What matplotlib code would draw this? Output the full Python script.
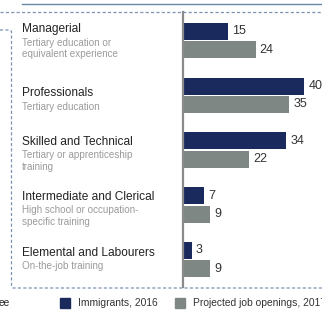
import matplotlib
matplotlib.use("Agg")
import matplotlib.pyplot as plt
from matplotlib.lines import Line2D
from matplotlib.patches import Rectangle
import numpy as np

categories = ["Managerial", "Professionals", "Skilled and Technical",
              "Intermediate and Clerical", "Elemental and Labourers"]
subtitles = [["Tertiary education or", "equivalent experience"],
             ["Tertiary education"],
             ["Tertiary or apprenticeship", "training"],
             ["High school or occupation-", "specific training"],
             ["On-the-job training"]]
immigrants_2016 = [15, 40, 34, 7, 3]
projected_2017 = [24, 35, 22, 9, 9]
series_labels = ["Immigrants, 2016", "Projected job openings, 2017"]

NAVY = "#1a2a5c"
GRAY = "#7f8784"
DASH = "#7b93b0"

plt.rcParams['font.family'] = ['Liberation Sans', 'DejaVu Sans']

W, H = 322, 311
fig = plt.figure(figsize=(W/100, H/100), dpi=100)

def fx(px):
    return px / W

def fy(py):
    return 1 - py / H

ax_left, ax_top, ax_bottom = 182.5, 12, 287
ax = fig.add_axes([fx(ax_left), fy(ax_bottom), fx(322 - ax_left + 2), (ax_bottom - ax_top) / H])
ax.set_xlim(0, 46.5)
ax.set_ylim(4.5, -0.52)

y = np.arange(len(categories))
off = 0.168
h = 0.31
ax.barh(y - off, immigrants_2016, height=h, color=NAVY, label=series_labels[0])
ax.barh(y + off, projected_2017, height=h, color=GRAY, label=series_labels[1])
for yi, v in zip(y - off, immigrants_2016):
    ax.annotate(str(v), (v, yi), xytext=(3, 0), textcoords="offset points",
                va="center", ha="left", fontsize=9, color="#333333")
for yi, v in zip(y + off, projected_2017):
    ax.annotate(str(v), (v, yi), xytext=(3, 0), textcoords="offset points",
                va="center", ha="left", fontsize=9, color="#333333")

for s in ["top", "right", "bottom"]:
    ax.spines[s].set_visible(False)
ax.spines["left"].set_color("#8a8a8a")
ax.spines["left"].set_linewidth(1.6)
ax.set_xticks([])
ax.set_yticks([])
ax.patch.set_alpha(0)

# category labels (pixel positions of title and subtitle lines)
title_y = [29, 93, 142, 197, 253]
line_gap = [[14, 25], [14], [13, 25], [13, 25], [13]]
for i, cat in enumerate(categories):
    fig.text(fx(22), fy(title_y[i]), cat, fontsize=8.6, color="#222222",
             va="center", ha="left")
    for sub, g in zip(subtitles[i], line_gap[i]):
        fig.text(fx(22), fy(title_y[i] + g), sub, fontsize=7.1, color="#9a9a9a",
                 va="center", ha="left")

# decorative lines
fig.add_artist(Line2D([fx(22), fx(322)], [fy(4), fy(4)], color="#6a86a8", lw=1.0))
fig.add_artist(Line2D([fx(0), fx(322)], [fy(11.5), fy(11.5)], color=DASH, lw=0.9,
                      ls=(0, (2.5, 1.8))))
fig.add_artist(Line2D([fx(0), fx(10), fx(11.5), fx(11.5), fx(13), fx(322)],
                      [fy(30), fy(30), fy(31.5), fy(286.5), fy(288), fy(288)],
                      color=DASH, lw=0.9, ls=(0, (2.5, 1.8))))

# legend
ly = 303
fig.text(fx(-1), fy(ly), "ee", fontsize=7.4, color="#222222", va="center", ha="left")
fig.add_artist(Rectangle((fx(60), fy(ly + 5)), fx(10), 10 / H, color=NAVY,
                         transform=fig.transFigure))
fig.text(fx(78), fy(ly), series_labels[0], fontsize=7.4, color="#333333",
         va="center", ha="left")
fig.add_artist(Rectangle((fx(175), fy(ly + 5)), fx(10), 10 / H, color=GRAY,
                         transform=fig.transFigure))
fig.text(fx(193), fy(ly), series_labels[1], fontsize=7.4, color="#333333",
         va="center", ha="left")

fig.savefig("out.png", dpi=100)
